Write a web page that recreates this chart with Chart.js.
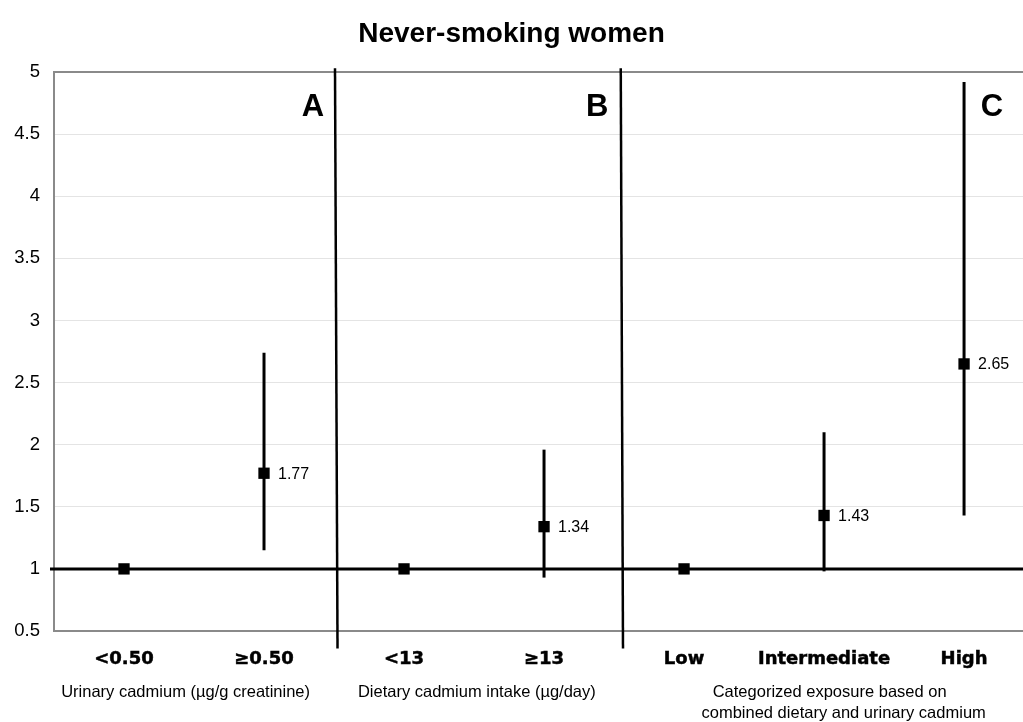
<!DOCTYPE html>
<html>
<head>
<meta charset="utf-8">
<title>Never-smoking women</title>
<script src="https://cdn.jsdelivr.net/npm/chart.js@4/dist/chart.umd.min.js"></script>
<style>
  html, body { margin: 0; padding: 0; background: #fff; overflow: hidden; }
  #wrap { width: 1023px; height: 722px; }
</style>
</head>
<body>
<div id="wrap"><canvas id="c" width="1023" height="722"></canvas></div>
<script>
// Exposure categories along the x axis
const categories = ['<0.50', '\u22650.50', '<13', '\u226513', 'Low', 'Intermediate', 'High'];
// Point estimates (reference groups fixed at 1)
const estimates = [1, 1.77, 1, 1.34, 1, 1.43, 2.65];
// 95% confidence limits (null for reference groups)
const lowerCI = [null, 1.15, null, 0.93, null, 0.98, 1.43];
const upperCI = [null, 2.74, null, 1.96, null, 2.10, 4.92];
// Values printed beside the markers
const valueLabels = [null, '1.77', null, '1.34', null, '1.43', '2.65'];
// Panel letters
const panelLetters = ['A', 'B', 'C'];
// Exposure descriptions under each panel
const panelCaptions = [
  ['Urinary cadmium (\u00b5g/g creatinine)'],
  ['Dietary cadmium intake (\u00b5g/day)'],
  ['Categorized exposure based on', 'combined dietary and urinary cadmium']
];
const yTicks = [0.5, 1, 1.5, 2, 2.5, 3, 3.5, 4, 4.5, 5];

const SANS = '"Liberation Sans", Arial, Helvetica, sans-serif';

// Layout helpers (x in category units)
const panelLetterX = [1.35, 3.38, 6.2];
const dividerX = [[1.507, 1.525], [3.548, 3.564]];
const captionX = [[0.44], [2.52], [5.04, 5.14]];

const overlay = {
  id: 'overlay',
  beforeDatasetsDraw(chart) {
    const { ctx, chartArea: a, scales: { x, y } } = chart;
    ctx.save();
    // top frame line
    ctx.strokeStyle = '#8a8a8a';
    ctx.lineWidth = 2;
    ctx.beginPath();
    ctx.moveTo(a.left, a.top);
    ctx.lineTo(a.right, a.top);
    ctx.stroke();
    // null-effect line at 1
    const y1 = y.getPixelForValue(1);
    ctx.strokeStyle = '#000';
    ctx.lineWidth = 3;
    ctx.beginPath();
    ctx.moveTo(a.left - 4, y1);
    ctx.lineTo(a.right, y1);
    ctx.stroke();
    // confidence interval bars
    ctx.lineWidth = 3;
    estimates.forEach((v, i) => {
      if (lowerCI[i] == null) return;
      const px = x.getPixelForValue(i);
      ctx.beginPath();
      ctx.moveTo(px, y.getPixelForValue(lowerCI[i]));
      ctx.lineTo(px, y.getPixelForValue(upperCI[i]));
      ctx.stroke();
    });
    ctx.restore();
  },
  afterDatasetsDraw(chart) {
    const { ctx, scales: { x, y } } = chart;
    ctx.save();
    // panel dividers
    ctx.strokeStyle = '#000';
    ctx.lineWidth = 2.5;
    dividerX.forEach(([top, bottom]) => {
      ctx.beginPath();
      ctx.moveTo(x.getPixelForValue(top), y.getPixelForValue(5.03));
      ctx.lineTo(x.getPixelForValue(bottom), y.getPixelForValue(0.36));
      ctx.stroke();
    });
    // value labels
    ctx.fillStyle = '#000';
    ctx.font = '16px ' + SANS;
    ctx.textAlign = 'left';
    ctx.textBaseline = 'middle';
    valueLabels.forEach((t, i) => {
      if (!t) return;
      ctx.fillText(t, x.getPixelForValue(i) + 14, y.getPixelForValue(estimates[i]) + 1);
    });
    // panel letters
    ctx.font = 'bold 31px ' + SANS;
    ctx.textAlign = 'center';
    ctx.textBaseline = 'alphabetic';
    panelLetters.forEach((t, i) => {
      ctx.fillText(t, x.getPixelForValue(panelLetterX[i]), 116);
    });
    // panel captions
    ctx.font = '16.5px ' + SANS;
    ctx.textBaseline = 'middle';
    panelCaptions.forEach((lines, i) => {
      lines.forEach((t, j) => {
        ctx.fillText(t, x.getPixelForValue(captionX[i][j]), 692 + j * 21);
      });
    });
    ctx.restore();
  }
};

new Chart(document.getElementById('c'), {
  type: 'scatter',
  data: {
    datasets: [{
      data: estimates.map((v, i) => ({ x: i, y: v })),
      pointStyle: 'rect',
      radius: 8,
      hoverRadius: 8,
      backgroundColor: '#000',
      borderColor: '#000',
      borderWidth: 0,
      showLine: false
    }]
  },
  options: {
    responsive: false,
    animation: false,
    layout: { padding: 0, autoPadding: false },
    plugins: {
      legend: { display: false },
      tooltip: { enabled: false },
      title: {
        display: true,
        text: 'Never-smoking women',
        color: '#000',
        font: { family: SANS, size: 28, weight: 'bold', lineHeight: 1.2 },
        padding: { top: 17, bottom: 21.4 }
      }
    },
    scales: {
      x: {
        type: 'linear',
        min: -0.5,
        max: 6.421,
        afterFit(s) { s.height = 91; },
        afterBuildTicks(s) { s.ticks = categories.map((c, i) => ({ value: i })); },
        grid: { display: false, drawTicks: false },
        border: { display: true, color: '#8a8a8a', width: 2 },
        ticks: {
          autoSkip: false,
          maxRotation: 0,
          padding: 18,
          color: '#000',
          textStrokeColor: '#000',
          textStrokeWidth: 0.5,
          font: { family: '"DejaVu Sans", sans-serif', size: 18, weight: 'bold' },
          callback: v => categories[v]
        }
      },
      y: {
        min: 0.5,
        max: 5,
        afterFit(s) { s.width = 54; },
        afterBuildTicks(s) { s.ticks = yTicks.map(v => ({ value: v })); },
        grid: { color: '#e4e4e4', lineWidth: 1, drawTicks: false },
        border: { display: true, color: '#8a8a8a', width: 2 },
        ticks: {
          padding: 14,
          color: '#000',
          font: { family: SANS, size: 18.5 },
          callback: v => String(v)
        }
      }
    }
  },
  plugins: [overlay]
});
</script>
</body>
</html>
